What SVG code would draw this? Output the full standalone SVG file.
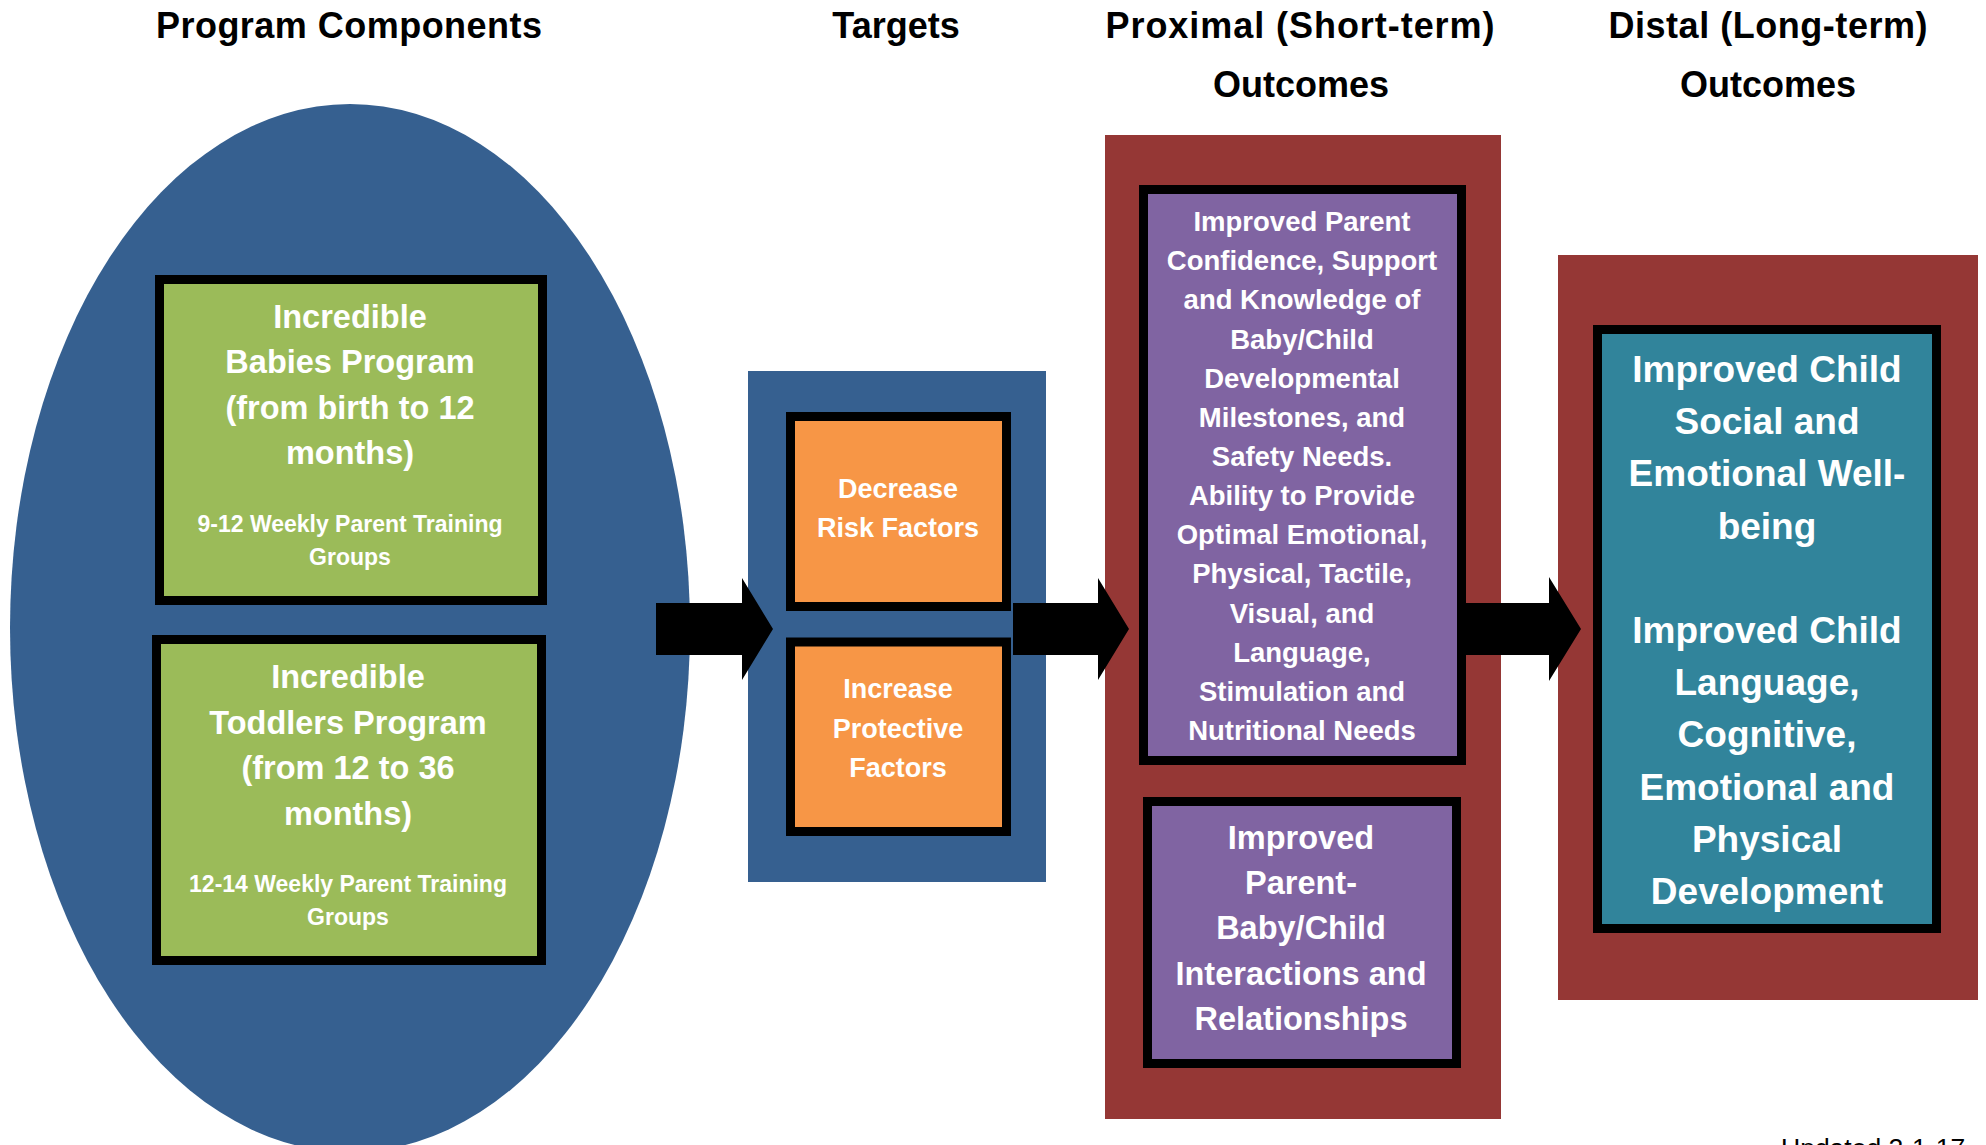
<svg xmlns="http://www.w3.org/2000/svg" width="1986" height="1145" viewBox="0 0 1986 1145">
  <style>
    .hdr { font-family: "Liberation Sans", Arial, sans-serif; font-weight: bold; font-size: 36px; fill: #000; text-anchor: middle; }
    .lbl { font-family: "Liberation Sans", Arial, sans-serif; font-weight: bold; fill: #fff; text-anchor: middle; }
    .box { stroke: #000; stroke-width: 9; }
    .green { fill: #9BBB59; }
    .orange { fill: #F79646; }
    .purple { fill: #8064A2; }
    .teal { fill: #31849B; }
    .blue { fill: #366090; }
    .red { fill: #953735; }
    .arrow { fill: #000; }
    .note { font-family: "Liberation Sans", Arial, sans-serif; font-size: 26.5px; fill: #000; }
  </style>
  <rect width="1986" height="1145" fill="#fff"/>

  <!-- Column headings -->
  <g id="headings">
    <text class="hdr" x="349" y="38" textLength="386" lengthAdjust="spacing">Program Components</text>
    <text class="hdr" x="896" y="38">Targets</text>
    <text class="hdr" x="1300" y="38" textLength="389" lengthAdjust="spacing">Proximal (Short-term)</text>
    <text class="hdr" x="1301" y="97">Outcomes</text>
    <text class="hdr" x="1768" y="38" textLength="319" lengthAdjust="spacing">Distal (Long-term)</text>
    <text class="hdr" x="1768" y="97">Outcomes</text>
  </g>

  <!-- Background containers -->
  <g id="program-components">
    <ellipse class="blue" cx="350" cy="628" rx="340" ry="524"/>
  </g>
  <g id="targets">
    <rect class="blue" x="748" y="371" width="298" height="511"/>
  </g>
  <g id="proximal-outcomes">
    <rect class="red" x="1105" y="135" width="396" height="984"/>
  </g>
  <g id="distal-outcomes">
    <rect class="red" x="1558" y="255" width="420" height="745"/>
  </g>

  <!-- Connectors -->
  <g id="connectors">
    <polygon class="arrow" points="656,603 742,603 742,578 773,629 742,680 742,655 656,655"/>
    <polygon class="arrow" points="1013,603 1098,603 1098,578 1129,629 1098,680 1098,655 1013,655"/>
    <polygon class="arrow" points="1466,603 1549,603 1549,577 1581,629 1549,681 1549,655 1466,655"/>
  </g>

  <!-- Program boxes -->
  <g id="incredible-babies">
    <rect class="box green" x="159.5" y="279.5" width="383" height="321"/>
    <text class="lbl" font-size="32.5" x="350" y="328">Incredible</text>
    <text class="lbl" font-size="32.5" x="350" y="373">Babies Program</text>
    <text class="lbl" font-size="32.5" x="350" y="418.5">(from birth to 12</text>
    <text class="lbl" font-size="32.5" x="350" y="463.5">months)</text>
    <text class="lbl" font-size="23" x="350" y="531.5">9-12 Weekly Parent Training</text>
    <text class="lbl" font-size="23" x="350" y="564.5">Groups</text>
  </g>
  <g id="incredible-toddlers">
    <rect class="box green" x="156.5" y="639.5" width="385" height="321"/>
    <text class="lbl" font-size="32.5" x="348" y="688">Incredible</text>
    <text class="lbl" font-size="32.5" x="348" y="733.5">Toddlers Program</text>
    <text class="lbl" font-size="32.5" x="348" y="779">(from 12 to 36</text>
    <text class="lbl" font-size="32.5" x="348" y="824.5">months)</text>
    <text class="lbl" font-size="23" x="348" y="891.5">12-14 Weekly Parent Training</text>
    <text class="lbl" font-size="23" x="348" y="924.5">Groups</text>
  </g>

  <!-- Target boxes -->
  <g id="decrease-risk">
    <rect class="box orange" x="790.5" y="416.5" width="216" height="190"/>
    <text class="lbl" font-size="27" x="898" y="498">Decrease</text>
    <text class="lbl" font-size="27" x="898" y="536.5">Risk Factors</text>
  </g>
  <g id="increase-protective">
    <rect class="box orange" x="790.5" y="642" width="216" height="189.5"/>
    <text class="lbl" font-size="27" x="898" y="698">Increase</text>
    <text class="lbl" font-size="27" x="898" y="738">Protective</text>
    <text class="lbl" font-size="27" x="898" y="777">Factors</text>
  </g>

  <!-- Proximal outcome boxes -->
  <g id="parent-confidence">
    <rect class="box purple" x="1143.5" y="189.5" width="318" height="571"/>
    <text class="lbl" font-size="27.5" x="1302" y="231">Improved Parent</text>
    <text class="lbl" font-size="27.5" x="1302" y="270.2">Confidence, Support</text>
    <text class="lbl" font-size="27.5" x="1302" y="309.3">and Knowledge of</text>
    <text class="lbl" font-size="27.5" x="1302" y="348.5">Baby/Child</text>
    <text class="lbl" font-size="27.5" x="1302" y="387.6">Developmental</text>
    <text class="lbl" font-size="27.5" x="1302" y="426.8">Milestones, and</text>
    <text class="lbl" font-size="27.5" x="1302" y="465.9">Safety Needs.</text>
    <text class="lbl" font-size="27.5" x="1302" y="505.1">Ability to Provide</text>
    <text class="lbl" font-size="27.5" x="1302" y="544.2">Optimal Emotional,</text>
    <text class="lbl" font-size="27.5" x="1302" y="583.4">Physical, Tactile,</text>
    <text class="lbl" font-size="27.5" x="1302" y="622.5">Visual, and</text>
    <text class="lbl" font-size="27.5" x="1302" y="661.7">Language,</text>
    <text class="lbl" font-size="27.5" x="1302" y="700.8">Stimulation and</text>
    <text class="lbl" font-size="27.5" x="1302" y="740">Nutritional Needs</text>
  </g>
  <g id="parent-child-interactions">
    <rect class="box purple" x="1147.5" y="801.5" width="309" height="262"/>
    <text class="lbl" font-size="32.5" x="1301" y="848.5">Improved</text>
    <text class="lbl" font-size="32.5" x="1301" y="893.9">Parent-</text>
    <text class="lbl" font-size="32.5" x="1301" y="939.3">Baby/Child</text>
    <text class="lbl" font-size="32.5" x="1301" y="984.7">Interactions and</text>
    <text class="lbl" font-size="32.5" x="1301" y="1030">Relationships</text>
  </g>

  <!-- Distal outcome box -->
  <g id="child-development">
    <rect class="box teal" x="1597.5" y="329.5" width="339" height="599"/>
    <text class="lbl" font-size="37" x="1767" y="382">Improved Child</text>
    <text class="lbl" font-size="37" x="1767" y="434.2">Social and</text>
    <text class="lbl" font-size="37" x="1767" y="486.4">Emotional Well-</text>
    <text class="lbl" font-size="37" x="1767" y="538.6">being</text>
    <text class="lbl" font-size="37" x="1767" y="643">Improved Child</text>
    <text class="lbl" font-size="37" x="1767" y="695.2">Language,</text>
    <text class="lbl" font-size="37" x="1767" y="747.4">Cognitive,</text>
    <text class="lbl" font-size="37" x="1767" y="799.6">Emotional and</text>
    <text class="lbl" font-size="37" x="1767" y="851.8">Physical</text>
    <text class="lbl" font-size="37" x="1767" y="904">Development</text>
  </g>

  <!-- Revision note along the bottom edge -->
  <text class="note" x="1781" y="1157">Updated 2-1-17</text>
</svg>
